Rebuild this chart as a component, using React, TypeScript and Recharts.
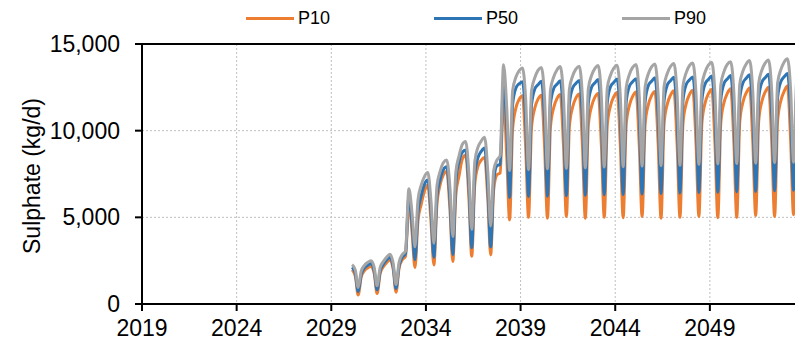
import { LineChart, Line, XAxis, YAxis, CartesianGrid, ReferenceLine } from 'recharts';

// Sample points within each year (fraction of the year)
const PHASES = [0.1, 0.27, 0.42, 0.58, 0.75, 0.92];

const YEARS = [
  2030, 2031, 2032, 2033, 2034, 2035, 2036, 2037, 2038, 2039, 2040, 2041,
  2042, 2043, 2044, 2045, 2046, 2047, 2048, 2049, 2050, 2051, 2052, 2053, 2054,
];

// One row per year, values at PHASES (kg/d)
const P10_ROWS = [
  [1980, 1600, 520, 1550, 1920, 2080],
  [2180, 1750, 600, 1750, 2150, 2380],
  [2550, 2000, 680, 2050, 2550, 2750],
  [5900, 4100, 2100, 4800, 5750, 6500],
  [6870, 4700, 2250, 5700, 6880, 7450],
  [7640, 5400, 2450, 6300, 7400, 8350],
  [8600, 6100, 2750, 6900, 7950, 8300],
  [8450, 6000, 2830, 6600, 7450, 7560],
  [11900, 8500, 4850, 10100, 11300, 11800],
  [12020, 9000, 5000, 10200, 11300, 11820],
  [12050, 9020, 4950, 10230, 11330, 11850],
  [12080, 9050, 5050, 10260, 11360, 11880],
  [12120, 9080, 4950, 10300, 11400, 11920],
  [12150, 9100, 5000, 10320, 11430, 11950],
  [12200, 9130, 4980, 10350, 11460, 11980],
  [12230, 9150, 5050, 10380, 11500, 12020],
  [12260, 9180, 4950, 10400, 11530, 12050],
  [12300, 9200, 5000, 10430, 11560, 12080],
  [12330, 9230, 5050, 10460, 11600, 12120],
  [12380, 9250, 4980, 10490, 11630, 12150],
  [12420, 9280, 5000, 10520, 11660, 12180],
  [12460, 9300, 5100, 10550, 11700, 12220],
  [12500, 9330, 5050, 10580, 11730, 12260],
  [12580, 9350, 5150, 10600, 11760, 12300],
  [12620],
];

const P50_ROWS = [
  [2120, 1750, 720, 1700, 2080, 2230],
  [2340, 1900, 820, 1900, 2300, 2540],
  [2700, 2150, 900, 2200, 2700, 2900],
  [6250, 4600, 2550, 5300, 6250, 6900],
  [7150, 5300, 2700, 6200, 7180, 7750],
  [7920, 6000, 2850, 7000, 8200, 8750],
  [8880, 6800, 3250, 7500, 8450, 8800],
  [9000, 6700, 3300, 7100, 7980, 8050],
  [12850, 10200, 6150, 11500, 12450, 12700],
  [12820, 10600, 6200, 11500, 12400, 12650],
  [12850, 10620, 6220, 11530, 12430, 12680],
  [12880, 10650, 6250, 11560, 12460, 12720],
  [12900, 10680, 6280, 11590, 12500, 12750],
  [12950, 10700, 6300, 11620, 12530, 12780],
  [12980, 10720, 6320, 11650, 12560, 12820],
  [13000, 10750, 6350, 11680, 12600, 12850],
  [13050, 10780, 6380, 11720, 12630, 12880],
  [13080, 10800, 6400, 11750, 12660, 12920],
  [13100, 10830, 6430, 11780, 12700, 12950],
  [13150, 10850, 6450, 11820, 12730, 12980],
  [13180, 10880, 6480, 11850, 12760, 13020],
  [13220, 10900, 6500, 11880, 12800, 13050],
  [13250, 10930, 6530, 11920, 12830, 13100],
  [13300, 10950, 6560, 11950, 12860, 13150],
  [13350],
];

const P90_ROWS = [
  [2270, 1950, 950, 1900, 2230, 2400],
  [2500, 2100, 1050, 2100, 2450, 2700],
  [2870, 2350, 1120, 2400, 2850, 3050],
  [6650, 5200, 3300, 6000, 6850, 7350],
  [7580, 5900, 3500, 6800, 7650, 8150],
  [8310, 6700, 3900, 7600, 8550, 9200],
  [9370, 7500, 4300, 8200, 9050, 9400],
  [9620, 7600, 4500, 7700, 8300, 8550],
  [13800, 11300, 7700, 12300, 13080, 13450],
  [13620, 11800, 7750, 12300, 13050, 13480],
  [13650, 11820, 7800, 12350, 13100, 13500],
  [13700, 11850, 7820, 12400, 13150, 13550],
  [13720, 11880, 7850, 12420, 13180, 13580],
  [13760, 11900, 7900, 12450, 13200, 13600],
  [13780, 11950, 7920, 12480, 13250, 13650],
  [13820, 11980, 7950, 12520, 13280, 13680],
  [13850, 12000, 7980, 12550, 13300, 13700],
  [13880, 12050, 8000, 12580, 13350, 13750],
  [13900, 12080, 8050, 12620, 13380, 13780],
  [13950, 12100, 8080, 12650, 13420, 13820],
  [13980, 12150, 8100, 12680, 13450, 13850],
  [14050, 12200, 8120, 12720, 13500, 13900],
  [14080, 12220, 8150, 12750, 13520, 13950],
  [14150, 12280, 8180, 12800, 13600, 14000],
  [14180],
];

const X_TICKS = [2019, 2024, 2029, 2034, 2039, 2044, 2049];
const Y_TICKS = [0, 5000, 10000, 15000];

const SERIES = [
  { key: 'p10', name: 'P10', color: '#ED7D31' },
  { key: 'p50', name: 'P50', color: '#2E75B6' },
  { key: 'p90', name: 'P90', color: '#A5A5A5' },
];

const data = YEARS.flatMap((yr, i) =>
  P10_ROWS[i].map((_, j) => ({
    t: yr + PHASES[j],
    p10: P10_ROWS[i][j],
    p50: P50_ROWS[i][j],
    p90: P90_ROWS[i][j],
  })),
);

const FONT = '"Liberation Sans", Arial, sans-serif';
const tickStyle = { fontSize: 23, fill: '#000', fontFamily: FONT };

export default function App() {
  return (
    <div style={{ position: 'relative', width: 795, height: 340, fontFamily: FONT }}>
      <LineChart width={795} height={340} data={data} margin={{ top: 36, right: 0, bottom: 0, left: 0 }}>
        <CartesianGrid stroke="#bfbfbf" strokeDasharray="2 2" />
        <XAxis
          dataKey="t"
          type="number"
          domain={[2019, 2053.92]}
          allowDataOverflow
          ticks={X_TICKS}
          interval={0}
          height={44}
          tick={tickStyle}
          tickSize={7}
          tickMargin={9}
          axisLine={{ stroke: '#000', strokeWidth: 2 }}
          tickLine={{ stroke: '#000', strokeWidth: 2 }}
        />
        <YAxis
          type="number"
          domain={[0, 15000]}
          ticks={Y_TICKS}
          width={134}
          tick={tickStyle}
          tickSize={7}
          tickMargin={15}
          tickFormatter={(v: number) => v.toLocaleString('en-US')}
          axisLine={{ stroke: '#000', strokeWidth: 2 }}
          tickLine={{ stroke: '#000', strokeWidth: 2 }}
          label={{
            content: () => (
              <text
                x={24}
                y={168}
                transform="rotate(-90, 24, 168)"
                textAnchor="middle"
                dominantBaseline="central"
                style={{ fontSize: 23, fill: '#000', fontFamily: FONT }}
              >
                Sulphate (kg/d)
              </text>
            ),
          }}
        />
        <ReferenceLine y={15000} stroke="#000" strokeWidth={2} />
        {SERIES.map((s) => (
          <Line
            key={s.key}
            dataKey={s.key}
            name={s.name}
            type="monotone"
            stroke={s.color}
            strokeWidth={3}
            dot={false}
            isAnimationActive={false}
          />
        ))}
      </LineChart>

      {/* Legend drawn as an overlay so it doesn't shift the plot area */}
      {SERIES.map((s, i) => (
        <div
          key={s.key}
          style={{
            position: 'absolute',
            top: 0,
            left: 238 + i * 188,
            height: 20,
            display: 'flex',
            alignItems: 'center',
            gap: 4,
            fontSize: 18,
            color: '#000',
          }}
        >
          <span style={{ display: 'inline-block', width: 48, height: 3, background: s.color }} />
          <span>{s.name}</span>
        </div>
      ))}
    </div>
  );
}
